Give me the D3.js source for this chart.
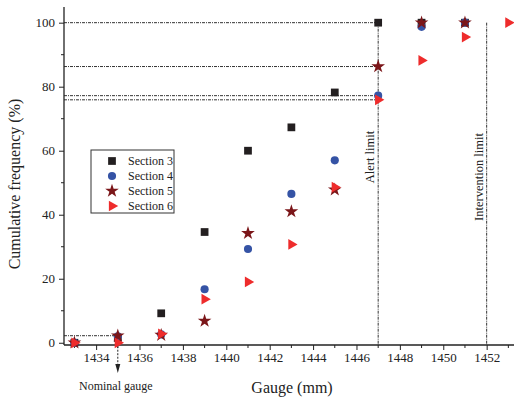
<!DOCTYPE html>
<html>
<head>
<meta charset="utf-8">
<script src="https://cdn.jsdelivr.net/npm/d3@7"></script>
<style>
  body { margin: 0; background: #fff; }
  svg { display: block; font-family: "Liberation Serif", "Times New Roman", serif; }
  .axis path, .axis line { stroke: #222; }
  .axis text { font-family: "Liberation Serif", serif; font-size: 13px; fill: #222; }
  .ref { stroke: #333; stroke-width: 1; stroke-dasharray: 3,1,1,1; fill: none; }
</style>
</head>
<body>
<div id="chart"></div>
<script>
// gauge (mm) categories
const gauges = [1433, 1435, 1437, 1439, 1441, 1443, 1445, 1447, 1449, 1451];
const gauges6 = [1433, 1435, 1437, 1439, 1441, 1443, 1445, 1447, 1449, 1451, 1453];

// cumulative frequency (%) per section
const section3 = [0, 1.5, 9.2, 34.6, 60, 67.3, 78.2, 100, 100, 100];
const section4 = [0, 2.0, 2.6, 16.7, 29.3, 46.5, 57, 77.2, 98.7, 100];
const section5 = [0, 2.2, 2.4, 6.8, 34.2, 41, 47.8, 86.3, 100, 100];
const section6 = [0, 0, 2.8, 13.6, 19, 30.7, 48.6, 75.9, 88.2, 95.5, 100];

// reference lines
const hRefs = [100, 86.3, 77.2, 75.9];   // drawn to the alert limit
const nominalGauge = 1435;
const nominalLevel = 2.2;
const alertLimit = 1447;
const interventionLimit = 1452;

const xTicks = [1434, 1436, 1438, 1440, 1442, 1444, 1446, 1448, 1450, 1452];
const xMinor = [1433, 1435, 1437, 1439, 1441, 1443, 1445, 1447, 1449, 1451, 1453];
const yTicks = [0, 20, 40, 60, 80, 100];
const yMinor = [10, 30, 50, 70, 90];

const width = 514, height = 401;

const svg = d3.select("#chart").append("svg")
  .attr("width", width)
  .attr("height", height);

const x = d3.scaleLinear().domain([1432.52, 1453.26]).range([64, 514]);
const y = d3.scaleLinear().domain([-0.7, 104.9]).range([345, 7]);

// reference lines
const refs = svg.append("g");
hRefs.forEach((v) => {
  refs.append("line").attr("class", "ref")
    .attr("x1", x.range()[0]).attr("x2", x(alertLimit))
    .attr("y1", y(v)).attr("y2", y(v));
});
refs.append("line").attr("class", "ref")
  .attr("x1", x.range()[0]).attr("x2", x(nominalGauge))
  .attr("y1", y(nominalLevel)).attr("y2", y(nominalLevel));

[alertLimit, interventionLimit].forEach((g) => {
  refs.append("line").attr("class", "ref")
    .attr("x1", x(g)).attr("x2", x(g))
    .attr("y1", y(100)).attr("y2", y.range()[0]);
});

// nominal gauge arrow
refs.append("line")
  .attr("x1", x(nominalGauge)).attr("x2", x(nominalGauge))
  .attr("y1", y(nominalLevel)).attr("y2", 366)
  .attr("stroke", "#222").attr("stroke-dasharray", "2,1.5");
refs.append("path")
  .attr("d", `M ${x(nominalGauge) - 2.5} 364 L ${x(nominalGauge)} 373 L ${x(nominalGauge) + 2.5} 364 Z`)
  .attr("fill", "#222");

svg.append("text")
  .attr("x", x(nominalGauge) - 2).attr("y", 390)
  .attr("text-anchor", "middle")
  .attr("font-size", 12).attr("fill", "#222")
  .text("Nominal gauge");

svg.append("text")
  .attr("transform", `translate(${x(alertLimit) - 4},157) rotate(-90)`)
  .attr("text-anchor", "middle")
  .attr("font-size", 12.5).attr("fill", "#222")
  .text("Alert limit");

svg.append("text")
  .attr("transform", `translate(${x(interventionLimit) - 4},177) rotate(-90)`)
  .attr("text-anchor", "middle")
  .attr("font-size", 12.5).attr("fill", "#222")
  .text("Intervention limit");

// axes
const xAxis = svg.append("g").attr("class", "axis")
  .attr("transform", `translate(0,${y.range()[0]})`)
  .call(d3.axisBottom(x).tickValues(xTicks).tickFormat(d3.format("d")).tickSize(5).tickPadding(3));
xAxis.append("g").selectAll("line").data(xMinor).join("line")
  .attr("x1", (d) => x(d)).attr("x2", (d) => x(d))
  .attr("y1", 0).attr("y2", 3).attr("stroke", "#222");
xAxis.select(".domain").attr("d", `M${x.range()[0]},0H${x.range()[1]}`).attr("stroke-width", 1.3);

const yAxis = svg.append("g").attr("class", "axis")
  .attr("transform", `translate(${x.range()[0]},0)`)
  .call(d3.axisLeft(y).tickValues(yTicks).tickSize(5).tickPadding(4));
yAxis.append("g").selectAll("line").data(yMinor).join("line")
  .attr("x1", 0).attr("x2", -3)
  .attr("y1", (d) => y(d)).attr("y2", (d) => y(d)).attr("stroke", "#222");
yAxis.select(".domain").attr("d", `M0,${y.range()[0]}V${y.range()[1]}`).attr("stroke-width", 1.3);

svg.append("text")
  .attr("transform", `translate(20,184) rotate(-90)`)
  .attr("text-anchor", "middle")
  .attr("font-size", 16).attr("fill", "#222")
  .text("Cumulative frequency (%)");

svg.append("text")
  .attr("x", 292).attr("y", 393)
  .attr("text-anchor", "middle")
  .attr("font-size", 16).attr("fill", "#222")
  .text("Gauge (mm)");

// series
const series = [
  { name: "Section 3", xs: gauges, ys: section3, type: d3.symbolSquare, size: 60, color: "#231f20" },
  { name: "Section 4", xs: gauges, ys: section4, type: d3.symbolCircle, size: 52, color: "#3553a5" },
  { name: "Section 5", xs: gauges, ys: section5, type: d3.symbolStar, size: 58, color: "#7b1619" },
  { name: "Section 6", xs: gauges6, ys: section6, type: d3.symbolTriangle, size: 50, color: "#ee2c2c", rot: 90 }
];

series.forEach((s) => {
  const sym = d3.symbol().type(s.type).size(s.size);
  svg.append("g").selectAll("path")
    .data(s.ys.map((v, i) => [s.xs[i], v]))
    .join("path")
    .attr("d", sym)
    .attr("fill", s.color)
    .attr("transform", (d) => `translate(${x(d[0])},${y(d[1])})` + (s.rot ? ` rotate(${s.rot})` : ""));
});

// legend
const legend = svg.append("g").attr("transform", "translate(91,150)");
legend.append("rect")
  .attr("width", 83).attr("height", 63)
  .attr("fill", "#fff").attr("stroke", "#333").attr("stroke-width", 1);
series.forEach((s, i) => {
  const row = legend.append("g").attr("transform", `translate(0,${11 + i * 15})`);
  row.append("path")
    .attr("d", d3.symbol().type(s.type).size(s.size)())
    .attr("fill", s.color)
    .attr("transform", `translate(21,0)` + (s.rot ? ` rotate(${s.rot})` : ""));
  row.append("text")
    .attr("x", 37).attr("y", 4)
    .attr("font-size", 12).attr("fill", "#222")
    .text(s.name);
});
</script>
</body>
</html>
